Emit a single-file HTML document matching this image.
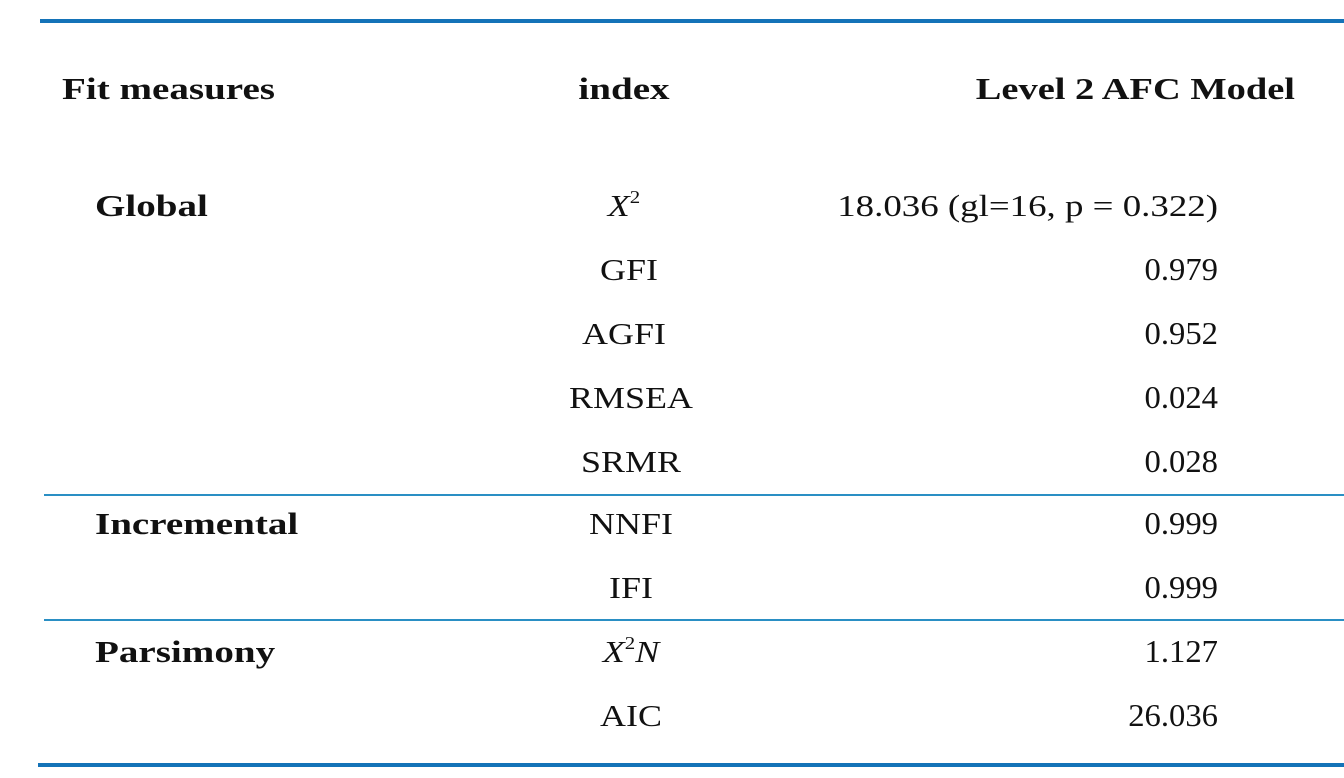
<!DOCTYPE html>
<html><head><meta charset="utf-8"><style>
body{margin:0;width:1344px;height:778px;background:#fff;position:relative;overflow:hidden;font-family:"Liberation Serif",serif;color:#111}
.t{position:absolute;font-size:31px;line-height:1;white-space:nowrap;transform-origin:left center;transform:scaleX(1.19)}
.b{font-weight:bold;transform:scaleX(1.26)}
.c{transform-origin:center center;transform:translateX(-50%) scaleX(1.16)}
.b.c{transform:translateX(-50%) scaleX(1.26)}
.r{transform-origin:right center;transform:translateX(-100%) scaleX(1.19)}
.r.n{transform:translateX(-100%) scaleX(1.02);font-size:32px}
.b.r{transform:translateX(-100%) scaleX(1.24)}
.ln{position:absolute;background:#1b7dbf}
sup{font-size:18px;vertical-align:top;position:relative;top:-2px}
</style></head><body>
<div class="ln" style="left:40px;top:19px;width:1304px;height:4px;background:#1473b8"></div>
<div class="ln" style="left:44px;top:494px;width:1300px;height:2px;background:#2a8fc4"></div>
<div class="ln" style="left:44px;top:619px;width:1300px;height:2px;background:#2a8fc4"></div>
<div class="ln" style="left:38px;top:763px;width:1306px;height:4px;background:#1473b8"></div>

<div class="t b" style="left:62px;top:73px">Fit measures</div>
<div class="t b c" style="left:624px;top:73px">index</div>
<div class="t b r" style="left:1295px;top:73px">Level 2 AFC Model</div>

<div class="t b" style="left:95px;top:190px">Global</div>
<div class="t b" style="left:95px;top:508px">Incremental</div>
<div class="t b" style="left:95px;top:636px">Parsimony</div>

<div class="t c" style="left:624px;top:190px"><i>X</i><sup>2</sup></div>
<div class="t c" style="left:629px;top:254px">GFI</div>
<div class="t c" style="left:624px;top:318px">AGFI</div>
<div class="t c" style="left:631px;top:382px">RMSEA</div>
<div class="t c" style="left:631px;top:446px">SRMR</div>
<div class="t c" style="left:631px;top:508px">NNFI</div>
<div class="t c" style="left:631px;top:572px">IFI</div>
<div class="t c" style="left:631px;top:636px"><i>X</i><sup>2</sup><i>N</i></div>
<div class="t c" style="left:631px;top:700px">AIC</div>

<div class="t r" style="left:1218px;top:190px">18.036 (gl=16, p = 0.322)</div>
<div class="t r n" style="left:1218px;top:253px">0.979</div>
<div class="t r n" style="left:1218px;top:317px">0.952</div>
<div class="t r n" style="left:1218px;top:381px">0.024</div>
<div class="t r n" style="left:1218px;top:445px">0.028</div>
<div class="t r n" style="left:1218px;top:507px">0.999</div>
<div class="t r n" style="left:1218px;top:571px">0.999</div>
<div class="t r n" style="left:1218px;top:635px">1.127</div>
<div class="t r n" style="left:1218px;top:699px">26.036</div>
</body></html>
